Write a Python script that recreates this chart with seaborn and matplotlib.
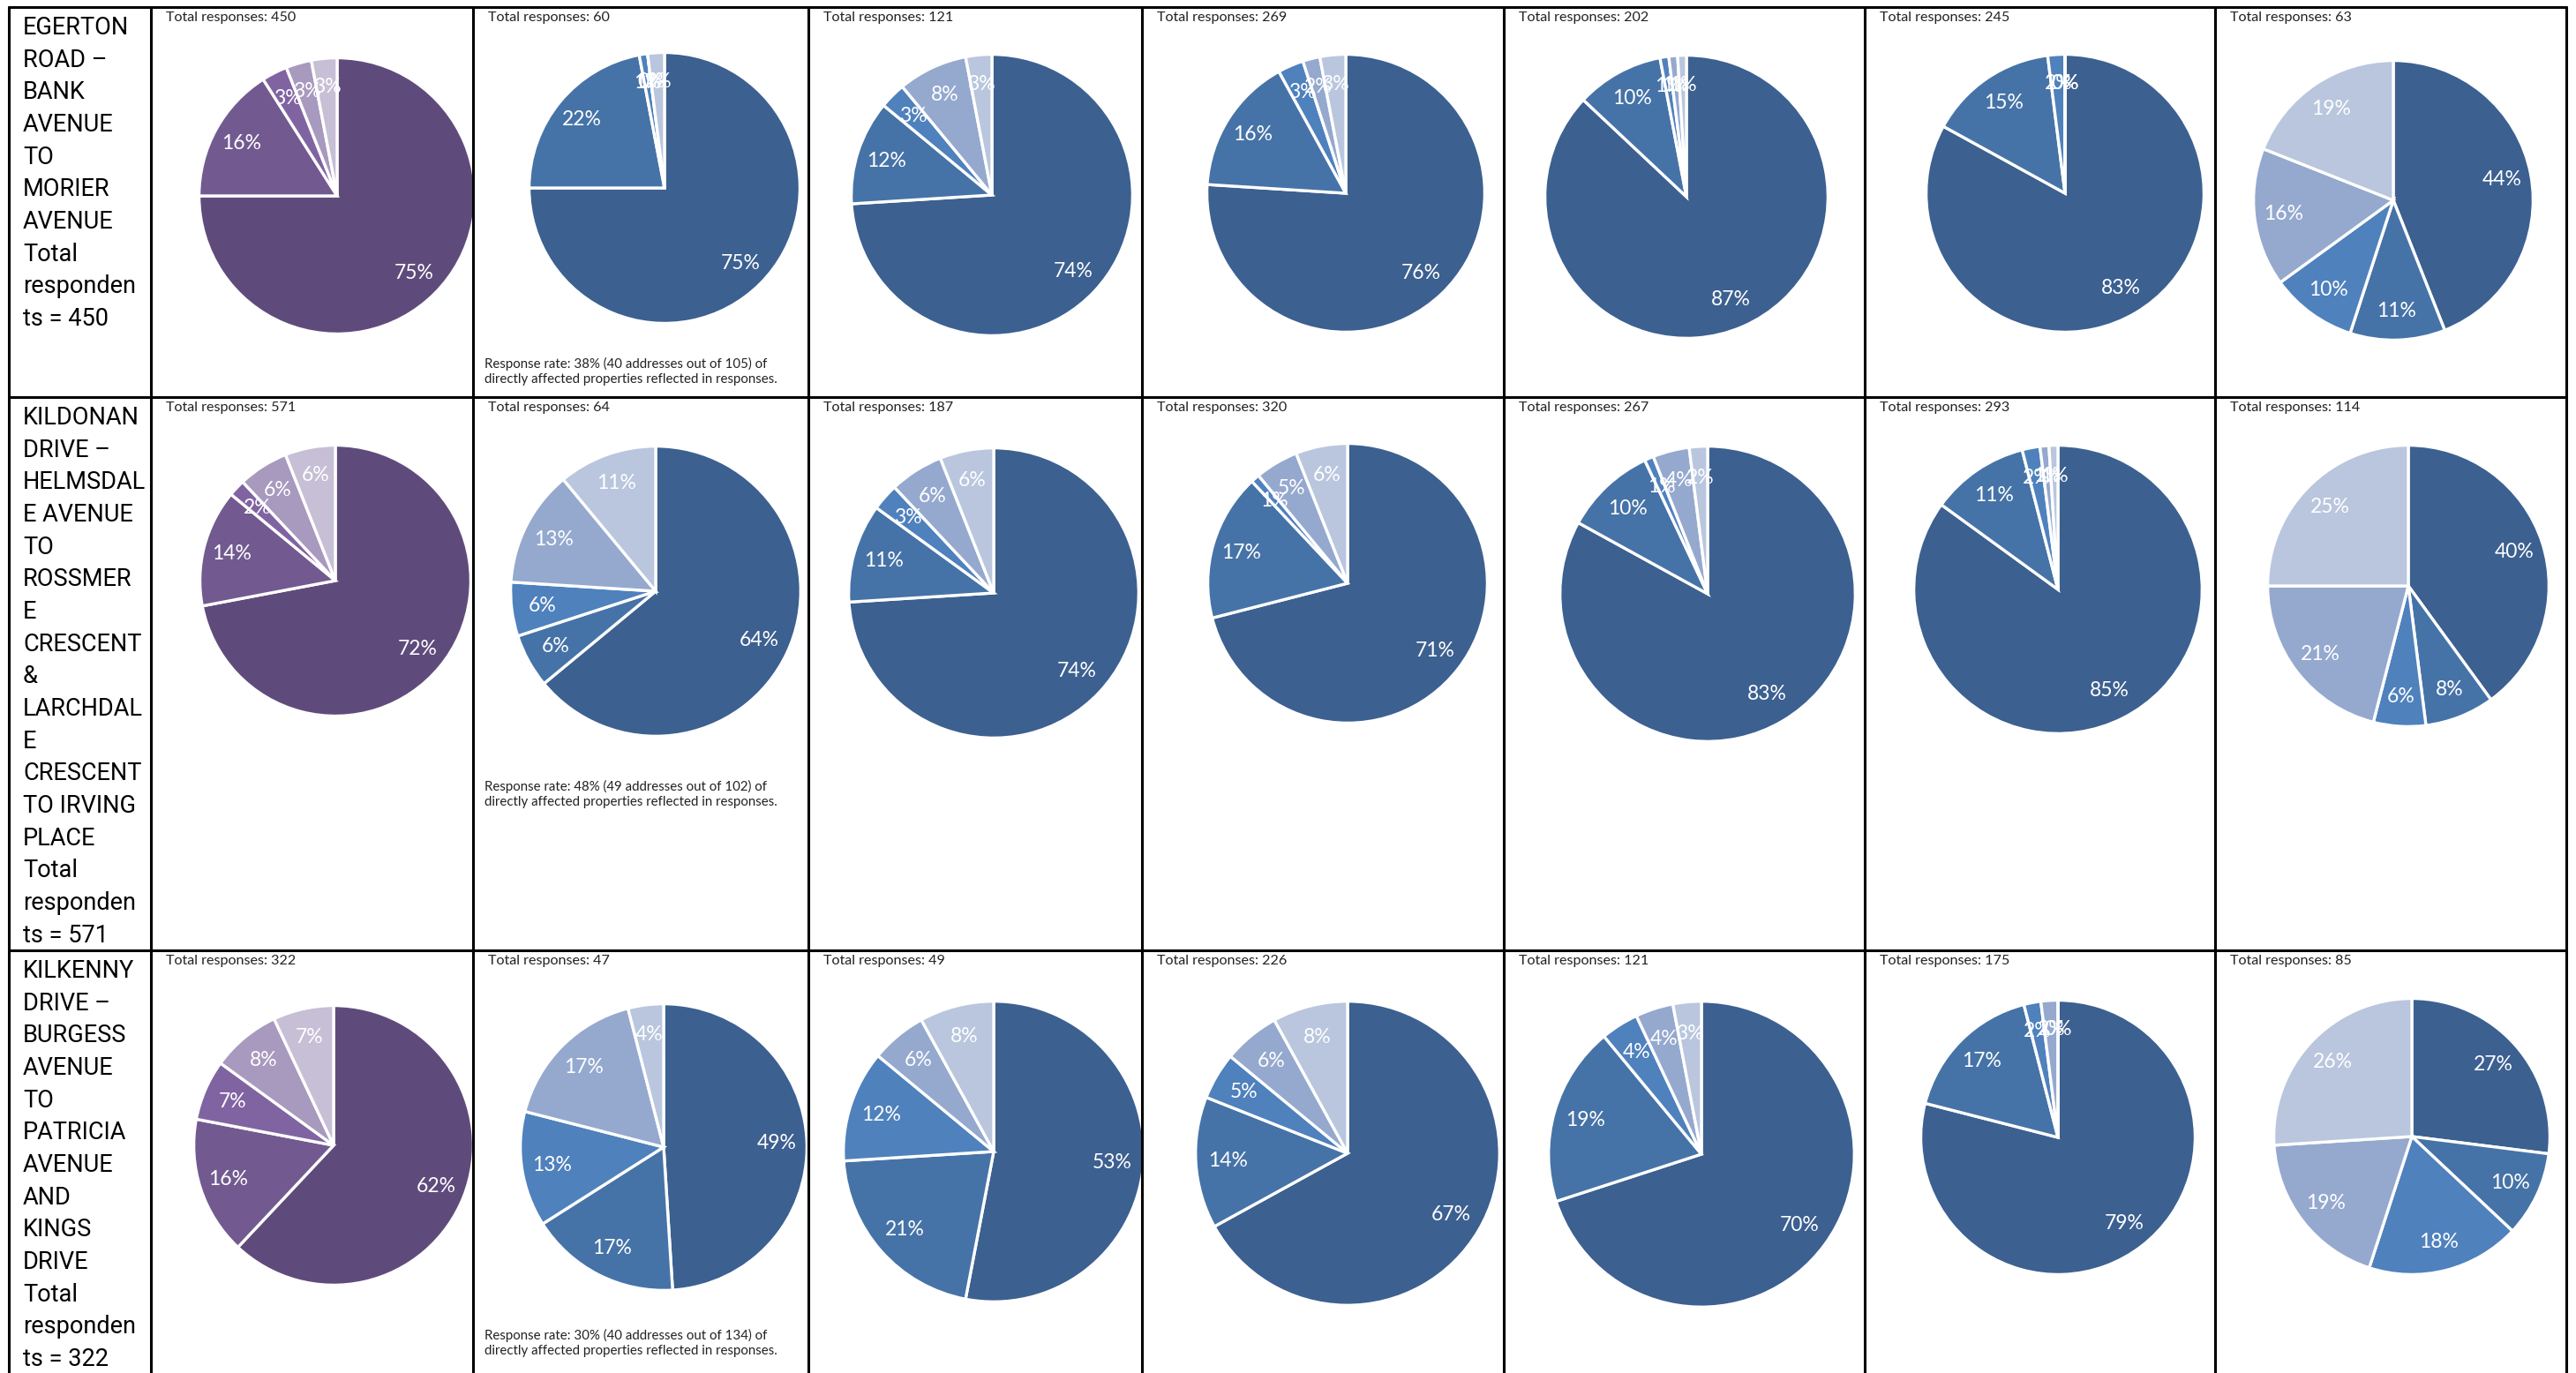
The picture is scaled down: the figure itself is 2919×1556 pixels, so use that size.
import matplotlib
matplotlib.use("Agg")
import numpy as np
import matplotlib.pyplot as plt
from matplotlib.lines import Line2D
import seaborn as sns

sns.set_theme(style="white")
plt.rcParams['font.family'] = ['Lato', 'DejaVu Sans']

# ---------------------------------------------------------------- data
segment_names = [
    "EGERTON\nROAD –\nBANK\nAVENUE\nTO\nMORIER\nAVENUE\nTotal\nresponden\nts = 450",
    "KILDONAN\nDRIVE –\nHELMSDAL\nE AVENUE\nTO\nROSSMER\nE\nCRESCENT\n&\nLARCHDAL\nE\nCRESCENT\nTO IRVING\nPLACE\nTotal\nresponden\nts = 571",
    "KILKENNY\nDRIVE –\nBURGESS\nAVENUE\nTO\nPATRICIA\nAVENUE\nAND\nKINGS\nDRIVE\nTotal\nresponden\nts = 322",
]

egerton_totals = [450, 60, 121, 269, 202, 245, 63]
kildonan_totals = [571, 64, 187, 320, 267, 293, 114]
kilkenny_totals = [322, 47, 49, 226, 121, 175, 85]

# shares (%) per question, clockwise from twelve o'clock
egerton_shares = [
    [75, 16, 3, 3, 3],
    [75, 22, 1, 0, 2],
    [74, 12, 3, 8, 3],
    [76, 16, 3, 2, 3],
    [87, 10, 1, 1, 1],
    [83, 15, 2, 0, 0],
    [44, 11, 10, 16, 19],
]
kildonan_shares = [
    [72, 14, 2, 6, 6],
    [64, 6, 6, 13, 11],
    [74, 11, 3, 6, 6],
    [71, 17, 1, 5, 6],
    [83, 10, 1, 4, 2],
    [85, 11, 2, 1, 1],
    [40, 8, 6, 21, 25],
]
kilkenny_shares = [
    [62, 16, 7, 8, 7],
    [49, 17, 13, 17, 4],
    [53, 21, 12, 6, 8],
    [67, 14, 5, 6, 8],
    [70, 19, 4, 4, 3],
    [79, 17, 2, 2, 0],
    [27, 10, 18, 19, 26],
]

response_notes = [
    "Response rate: 38% (40 addresses out of 105) of\ndirectly affected properties reflected in responses.",
    "Response rate: 48% (49 addresses out of 102) of\ndirectly affected properties reflected in responses.",
    "Response rate: 30% (40 addresses out of 134) of\ndirectly affected properties reflected in responses.",
]

rows_totals = [egerton_totals, kildonan_totals, kilkenny_totals]
rows_shares = [egerton_shares, kildonan_shares, kilkenny_shares]

# ---------------------------------------------------------------- styling
purple_pal = sns.color_palette(["#5F4B7B", "#725A91", "#8064A2", "#A899BE", "#C6BFD6"])
blue_pal = sns.color_palette(["#3C6090", "#4673A7", "#4F81BD", "#95A9CF", "#B9C6DE"])

W, H, DPI = 2919, 1556, 100
fig = plt.figure(figsize=(W / DPI, H / DPI), dpi=DPI)
fig.patch.set_facecolor("white")

def fx(x):
    return x / W

def fy(y):
    return 1 - y / H

# table grid (pixel layout)
col_edges = [10, 171, 536, 916, 1294, 1704, 2113, 2510, 2908]
row_edges = [8, 450, 1077]

# pie centre / radius per cell (pixels)
pie_layout = [
    [(382, 222, 158), (753, 213, 155), (1124, 221, 161), (1525, 219, 159),
     (1911, 223, 162), (2340, 219, 159), (2712, 227, 160)],
    [(380, 658, 155), (743, 670, 166), (1126, 672, 166), (1527, 661, 160),
     (1935, 673, 169), (2332, 668, 165), (2729, 664, 161)],
    [(378, 1298, 160), (752, 1300, 164), (1126, 1305, 172), (1527, 1307, 174),
     (1928, 1308, 175), (2332, 1289, 157), (2733, 1288, 158)],
]

for r in range(3):
    # left label column
    fig.text(fx(26), fy(row_edges[r] + 10), segment_names[r], ha="left", va="top",
             fontsize=19.5, color="black", linespacing=1.46,
             family=["Roboto", "DejaVu Sans"])
    for c in range(7):
        left = col_edges[c + 1]
        fig.text(fx(left + 17), fy(row_edges[r] + 12), f"Total responses: {rows_totals[r][c]}",
                 ha="left", va="center", fontsize=11.6, color="#222222")
        cx, cy, rad = pie_layout[r][c]
        ax = fig.add_axes([fx(cx - rad), fy(cy + rad), 2 * rad / W, 2 * rad / H])
        vals = rows_shares[r][c]
        pal = purple_pal if c == 0 else blue_pal
        wedges, _ = ax.pie(vals, colors=pal, startangle=90, counterclock=False,
                           radius=1.0,
                           wedgeprops=dict(edgecolor="white", linewidth=2.4))
        for w, v in zip(wedges, vals):
            ang = np.deg2rad((w.theta1 + w.theta2) / 2)
            ax.text(0.79 * np.cos(ang), 0.79 * np.sin(ang), f"{v}%", ha="center",
                    va="center", color="white", fontsize=16.5)
        ax.set_xlim(-1.01, 1.01)
        ax.set_ylim(-1.01, 1.01)
        ax.set_aspect("auto")
        ax.axis("off")

# response-rate notes under the second column
note_y = [421, 900, 1522]
for r in range(3):
    fig.text(fx(col_edges[2] + 13), fy(note_y[r]), response_notes[r], ha="left", va="center",
             fontsize=10.8, color="#222222", linespacing=1.35)

# grid lines
for x in col_edges:
    fig.add_artist(Line2D([fx(x), fx(x)], [fy(row_edges[0]), 0], color="black", lw=2.2))
for y in row_edges:
    fig.add_artist(Line2D([fx(col_edges[0]), fx(col_edges[-1])], [fy(y), fy(y)], color="black", lw=2.2))

fig.savefig("out.png", dpi=DPI, facecolor="white")
